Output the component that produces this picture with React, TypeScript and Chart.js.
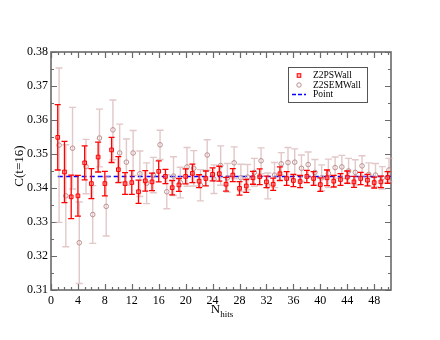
import React, { useEffect, useRef } from "react";
import { Chart, registerables } from "chart.js";

Chart.register(...registerables);

// ---------------- data ----------------
const nHits = [
  1, 2, 3, 4, 5, 6, 7, 8, 9, 10, 11, 12, 13, 14, 15, 16, 17, 18, 19, 20, 21, 22, 23, 24, 25,
  26, 27, 28, 29, 30, 31, 32, 33, 34, 35, 36, 37, 38, 39, 40, 41, 42, 43, 44, 45, 46, 47, 48, 49, 50,
];

const psValues = [
  0.3549, 0.3447, 0.3374, 0.3377, 0.3474, 0.3413, 0.3491, 0.3413, 0.3512, 0.3454,
  0.3413, 0.3416, 0.3389, 0.3421, 0.3418, 0.3449, 0.3434, 0.3401, 0.3409, 0.3434,
  0.3443, 0.342, 0.3428, 0.344, 0.3442, 0.3411, 0.3438, 0.3399, 0.3406, 0.343,
  0.3433, 0.3418, 0.3411, 0.3442, 0.3428, 0.3422, 0.3419, 0.3434, 0.3428, 0.341,
  0.343, 0.342, 0.3425, 0.3432, 0.3418, 0.3428, 0.3423, 0.3416, 0.3418, 0.3431,
];
const psErrors = [
  0.0096, 0.009, 0.0064, 0.006, 0.005, 0.0044, 0.0044, 0.0036, 0.0037, 0.0038,
  0.0032, 0.0035, 0.0034, 0.003, 0.0026, 0.0031, 0.0021, 0.0021, 0.0019, 0.0022,
  0.0027, 0.0019, 0.0022, 0.0019, 0.0022, 0.002, 0.0019, 0.002, 0.0019, 0.0019,
  0.0023, 0.0017, 0.0018, 0.002, 0.002, 0.0018, 0.0018, 0.0018, 0.002, 0.002,
  0.0023, 0.0017, 0.0017, 0.0018, 0.0016, 0.0018, 0.0017, 0.0016, 0.0017, 0.0017,
];

const semValues = [
  0.3526, 0.3377, 0.3517, 0.3239, 0.3463, 0.3322, 0.3547, 0.3346, 0.3571, 0.3503,
  0.3476, 0.3503, 0.3442, 0.3414, 0.3438, 0.3527, 0.3389, 0.3435, 0.3416, 0.3462,
  0.3458, 0.3408, 0.3497, 0.3426, 0.3466, 0.343, 0.3474, 0.343, 0.3432, 0.3446,
  0.348, 0.3406, 0.3438, 0.3471, 0.3475, 0.3476, 0.3458, 0.3469, 0.3446, 0.343,
  0.3443, 0.346, 0.3462, 0.345, 0.3446, 0.3465, 0.344, 0.3438, 0.343, 0.3453,
];
const semErrors = [
  0.0227, 0.015, 0.012, 0.012, 0.008, 0.0085, 0.0085, 0.0087, 0.0088, 0.0085,
  0.0068, 0.0066, 0.0067, 0.006, 0.0052, 0.0043, 0.005, 0.0057, 0.0045, 0.0057,
  0.0052, 0.0046, 0.0045, 0.0042, 0.0058, 0.0042, 0.0047, 0.004, 0.0037, 0.0041,
  0.0038, 0.0038, 0.0037, 0.0033, 0.0044, 0.0039, 0.0039, 0.0037, 0.0038, 0.0038,
  0.0042, 0.0031, 0.0034, 0.0037, 0.0037, 0.003, 0.0034, 0.0034, 0.0033, 0.0034,
];

const pointValue = 0.3434;
const pointRange = [1, 50.5];

const xTicks = [0, 4, 8, 12, 16, 20, 24, 28, 32, 36, 40, 44, 48];
const yTicks = [0.31, 0.32, 0.33, 0.34, 0.35, 0.36, 0.37, 0.38];
const X_MIN = 0;
const X_MAX = 50.5;
const Y_MIN = 0.31;
const Y_MAX = 0.38;

const seriesNames = ["Z2PSWall", "Z2SEMWall", "Point"];

// ---------------- style ----------------
const SERIF = "'Liberation Serif', 'DejaVu Serif', 'Times New Roman', serif";
const RED = "#ff0000";
const RED_FILL = "rgba(255,110,110,0.55)";
const BROWN = "rgb(188,143,143)";
const BROWN_BAR = "rgba(210,170,170,0.65)";
const BLUE = "#0000ff";
const FRAME = "#6a6a6a";
const SEM_SHIFT = 0.2;

const errorBarPlugin = {
  id: "errorBars",
  beforeDatasetDraw(chart: any, args: any) {
    const ds = chart.data.datasets[args.index];
    const errs: number[] | undefined = ds.errors;
    if (!errs) return;
    const ctx = chart.ctx;
    const xs = chart.scales.x;
    const ys = chart.scales.y;
    ctx.save();
    ctx.strokeStyle = ds.errorColor;
    ctx.lineWidth = ds.errorWidth;
    const cap = ds.capHalf;
    ds.data.forEach((p: any, i: number) => {
      const px = xs.getPixelForValue(p.x);
      const top = ys.getPixelForValue(p.y + errs[i]);
      const bot = ys.getPixelForValue(p.y - errs[i]);
      ctx.beginPath();
      ctx.moveTo(px, top);
      ctx.lineTo(px, bot);
      ctx.moveTo(px - cap, top);
      ctx.lineTo(px + cap, top);
      ctx.moveTo(px - cap, bot);
      ctx.lineTo(px + cap, bot);
      ctx.stroke();
    });
    ctx.restore();
  },
};

const framePlugin = {
  id: "frameTicks",
  beforeDatasetsDraw(chart: any) {
    const { ctx, chartArea } = chart;
    const { left, right, top, bottom } = chartArea;
    const xs = chart.scales.x;
    const ys = chart.scales.y;
    ctx.save();
    ctx.strokeStyle = FRAME;
    ctx.lineWidth = 1.2;
    const MAJ = 6;
    const MIN = 3;
    ctx.beginPath();
    for (let v = 0; v <= X_MAX; v += 1) {
      const px = Math.round(xs.getPixelForValue(v)) + 0.5;
      const len = v % 4 === 0 ? MAJ : MIN;
      ctx.moveTo(px, bottom);
      ctx.lineTo(px, bottom - len);
      ctx.moveTo(px, top);
      ctx.lineTo(px, top + len);
    }
    for (let k = 0; k <= 14; k++) {
      const v = Y_MIN + k * 0.005;
      const py = Math.round(ys.getPixelForValue(v)) + 0.5;
      const len = k % 2 === 0 ? MAJ : MIN;
      ctx.moveTo(left, py);
      ctx.lineTo(left + len, py);
      ctx.moveTo(right, py);
      ctx.lineTo(right - len, py);
    }
    ctx.stroke();
    ctx.lineWidth = 1.6;
    ctx.strokeRect(left, top, right - left, bottom - top);
    ctx.restore();
  },
  afterDraw(chart: any) {
    const { ctx, chartArea } = chart;
    ctx.save();
    ctx.fillStyle = "#000";
    // y title
    ctx.save();
    ctx.translate(20, (chartArea.top + chartArea.bottom) / 2 - 5);
    ctx.rotate(-Math.PI / 2);
    ctx.font = `13px ${SERIF}`;
    ctx.textAlign = "center";
    ctx.textBaseline = "middle";
    ctx.fillText("C(t=16)", 0, 0);
    ctx.restore();
    // x title with subscript
    ctx.font = `13px ${SERIF}`;
    ctx.textAlign = "left";
    ctx.textBaseline = "alphabetic";
    const wN = ctx.measureText("N").width;
    ctx.font = `9px ${SERIF}`;
    const wS = ctx.measureText("hits").width;
    const cx = (chartArea.left + chartArea.right) / 2;
    const x0 = cx - (wN + wS) / 2 + 1;
    ctx.font = `13px ${SERIF}`;
    ctx.fillText("N", x0, 313);
    ctx.font = `9px ${SERIF}`;
    ctx.fillText("hits", x0 + wN, 317);

    // legend
    const lx = 288, ly = 67, lw = 79, lh = 35;
    ctx.fillStyle = "#fff";
    ctx.fillRect(lx, ly, lw, lh);
    ctx.strokeStyle = "#555";
    ctx.lineWidth = 1;
    ctx.strokeRect(lx + 0.5, ly + 0.5, lw, lh);
    const rows = [75.5, 85, 94.5];
    const sx = 299;
    // red square
    ctx.strokeStyle = RED;
    ctx.fillStyle = RED_FILL;
    ctx.lineWidth = 1;
    ctx.fillRect(sx - 1.8, rows[0] - 1.8, 3.6, 3.6);
    ctx.strokeRect(sx - 1.8, rows[0] - 1.8, 3.6, 3.6);
    // brown circle
    ctx.strokeStyle = BROWN;
    ctx.beginPath();
    ctx.arc(sx, rows[1], 2.2, 0, Math.PI * 2);
    ctx.stroke();
    // blue dashed
    ctx.strokeStyle = BLUE;
    ctx.lineWidth = 1.3;
    ctx.setLineDash([4, 2]);
    ctx.beginPath();
    ctx.moveTo(292, rows[2]);
    ctx.lineTo(306, rows[2]);
    ctx.stroke();
    ctx.setLineDash([]);
    ctx.fillStyle = "#000";
    ctx.font = `9.5px ${SERIF}`;
    ctx.textBaseline = "middle";
    ctx.textAlign = "left";
    seriesNames.forEach((name, i) => ctx.fillText(name, 313, rows[i]));
    ctx.restore();
  },
};

export default function App() {
  const canvasRef = useRef<HTMLCanvasElement | null>(null);

  useEffect(() => {
    const canvas = canvasRef.current;
    if (!canvas) return;
    Chart.defaults.font.family = SERIF;
    Chart.defaults.color = "#000";

    const psData = nHits.map((n, i) => ({ x: n, y: psValues[i] }));
    const semData = nHits.map((n, i) => ({ x: n + SEM_SHIFT, y: semValues[i] }));
    const pointData = pointRange.map((x) => ({ x, y: pointValue }));

    const chart = new Chart(canvas, {
      type: "scatter",
      data: {
        datasets: [
          {
            label: seriesNames[0],
            data: psData,
            pointStyle: "rect",
            pointRadius: 2.6,
            borderColor: RED,
            backgroundColor: RED_FILL,
            borderWidth: 1,
            showLine: false,
            errors: psErrors,
            errorColor: RED,
            errorWidth: 1.3,
            capHalf: 3,
          } as any,
          {
            label: seriesNames[1],
            data: semData,
            pointStyle: "circle",
            pointRadius: 2.3,
            borderColor: BROWN,
            backgroundColor: "rgba(0,0,0,0)",
            borderWidth: 1,
            showLine: false,
            errors: semErrors,
            errorColor: BROWN_BAR,
            errorWidth: 1.4,
            capHalf: 3.5,
          } as any,
          {
            label: seriesNames[2],
            data: pointData,
            showLine: true,
            borderColor: BLUE,
            borderWidth: 1.5,
            borderDash: [5, 3],
            pointRadius: 0,
            fill: false,
          } as any,
        ],
      },
      options: {
        animation: false,
        responsive: false,
        devicePixelRatio: 1,
        events: [],
        layout: { padding: { left: 0, right: 49, top: 52, bottom: 0 } },
        plugins: { legend: { display: false }, tooltip: { enabled: false } },
        scales: {
          x: {
            type: "linear",
            min: X_MIN,
            max: X_MAX,
            grid: { display: false, drawTicks: false },
            border: { display: false },
            afterBuildTicks: (scale: any) => {
              scale.ticks = xTicks.map((v) => ({ value: v }));
            },
            afterFit: (scale: any) => {
              scale.height = 50;
            },
            ticks: {
              font: { size: 12, family: SERIF },
              color: "#000",
              padding: 4,
              maxRotation: 0,
              autoSkip: false,
              callback: (v: any) => String(v),
            },
          },
          y: {
            type: "linear",
            min: Y_MIN,
            max: Y_MAX,
            grid: { display: false, drawTicks: false },
            border: { display: false },
            afterBuildTicks: (scale: any) => {
              scale.ticks = yTicks.map((v) => ({ value: v }));
            },
            afterFit: (scale: any) => {
              scale.width = 51;
            },
            ticks: {
              font: { size: 12, family: SERIF },
              color: "#000",
              padding: 3,
              autoSkip: false,
              callback: (v: any) => Number(v).toFixed(2),
            },
          },
        },
      },
      plugins: [errorBarPlugin, framePlugin],
    } as any);

    return () => chart.destroy();
  }, []);

  return (
    <div style={{ position: "fixed", left: 0, top: 0, width: 440, height: 340, background: "#fff" }}>
      <canvas ref={canvasRef} width={440} height={340} style={{ width: 440, height: 340 }} />
    </div>
  );
}
